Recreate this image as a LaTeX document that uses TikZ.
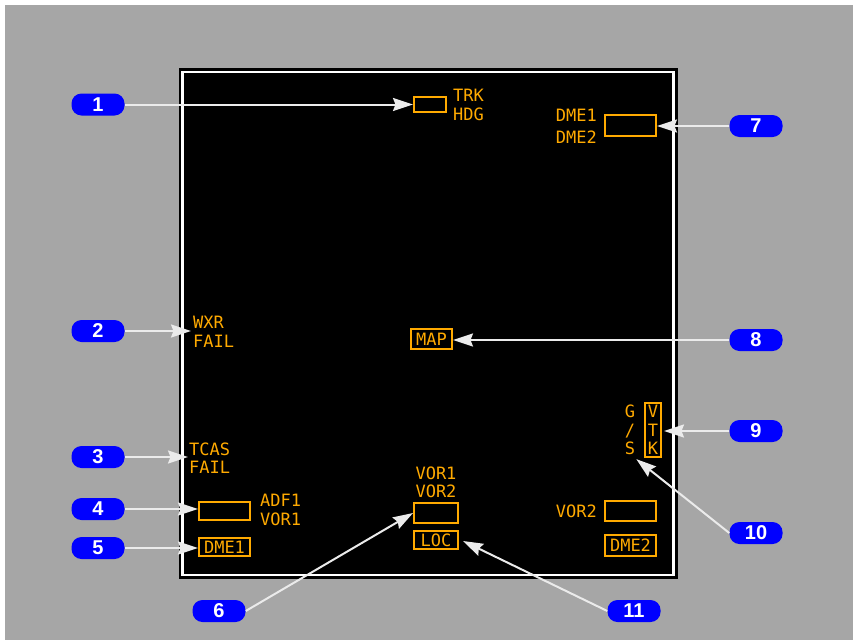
\documentclass[tikz,border=0pt]{standalone}
\usepackage{fontspec}
\usetikzlibrary{arrows.meta, positioning, calc}
\newfontfamily\ndmono{DejaVu Sans Mono}
\newfontfamily\badgesans{Liberation Sans}
\definecolor{bggrey}{HTML}{A6A6A6}
\definecolor{ndamber}{HTML}{FFAA00}
\definecolor{badgeblue}{HTML}{0000FF}
\definecolor{calloutwhite}{HTML}{EBEBEB}

\begin{document}
\begin{tikzpicture}[
      x=1pt, y=-1pt,
      badge/.style={fill=badgeblue, rounded corners=10pt, minimum width=53pt,
        minimum height=22pt, inner sep=0pt, text=white,
        font=\badgesans\bfseries\fontsize{20}{20}\selectfont},
      ndtext/.style={text=ndamber, inner sep=0pt,
        font=\ndmono\fontsize{17}{19}\selectfont},
      ndbox/.style={ndtext, draw=ndamber, line width=2pt},
      callout/.style={draw=calloutwhite, line width=2pt,
        -{Stealth[length=20pt, width=13pt, inset=2.5pt]}}
    ]
      \useasboundingbox (0,0) rectangle (853,640);
      \fill[white] (0,0) rectangle (853,640);
      \fill[bggrey] (5,5) rectangle (853,640);

      % display panel
      \fill[black] (179,68) rectangle (678,579);
      \draw[white, line width=2.5pt] (182.5,72) rectangle (673.5,575);

      % flags and boxes
      \node[ndbox, minimum width=32pt, minimum height=15pt] (trkbox) at (430,104.5) {};
      \node[ndtext, anchor=west, align=left] (trk) at (453,104.5) {TRK\\HDG};
      \node[ndbox, minimum width=51pt, minimum height=21pt] (dmebox) at (630.5,125.5) {};
      \node[ndtext, anchor=east, align=right] (dme) at (597,126) {DME1\\[3pt]DME2};
      \node[ndtext, anchor=west, align=left] (wxr) at (193,331.5) {WXR\\FAIL};
      \node[ndbox, minimum width=41pt, minimum height=20pt] (mapbox) at (431.5,339) {MAP};
      \node[ndtext, align=center, font=\ndmono\fontsize{17}{18.5}\selectfont] (gs) at (630,430) {G\\/\\S};
      \node[ndbox, align=center, minimum width=16pt, minimum height=54pt,
        font=\ndmono\fontsize{17}{18.5}\selectfont] (vtk) at (653,430) {V\\T\\K};
      \node[ndtext, anchor=west, align=left, font=\ndmono\fontsize{17}{18}\selectfont] (tcas) at (189,458) {TCAS\\FAIL};
      \node[ndbox, minimum width=51pt, minimum height=18pt] (adfbox) at (224.5,511) {};
      \node[ndtext, anchor=west, align=left] (adf) at (260,509.5) {ADF1\\VOR1};
      \node[ndbox, minimum width=51pt, minimum height=18pt] (dmeonebox) at (224.5,547) {DME1};
      \node[ndtext, align=center, font=\ndmono\fontsize{17}{18}\selectfont] (vor) at (436,482) {VOR1\\VOR2};
      \node[ndbox, minimum width=44pt, minimum height=20pt] (vorbox) at (436,513) {};
      \node[ndbox, minimum width=44pt, minimum height=18pt] (locbox) at (436,540) {LOC};
      \node[ndtext, anchor=east] (vortwo) at (597,511) {VOR2};
      \node[ndbox, minimum width=51pt, minimum height=20pt] (vortwobox) at (630.5,511) {};
      \node[ndbox, minimum width=51pt, minimum height=21pt] (dmetwobox) at (630.5,545.5) {DME2};

      % callout badges
      \node[badge] (b1) at (98,104.5) {1};
      \node[badge] (b2) at (98,331) {2};
      \node[badge] (b3) at (98,457) {3};
      \node[badge] (b4) at (98,509) {4};
      \node[badge] (b5) at (98,548) {5};
      \node[badge] (b6) at (219,611) {6};
      \node[badge] (b7) at (756,126) {7};
      \node[badge] (b8) at (756,340) {8};
      \node[badge] (b9) at (756,431) {9};
      \node[badge] (b10) at (756,533) {10};
      \node[badge] (b11) at (634,611) {11};

      \draw[callout] (b1.east) -- (b1.east -| trkbox.west);
      \draw[callout] (b2.east) -- ($(b2.east -| wxr.west)+(-2,0)$);
      \draw[callout] (b3.east) -- ($(b3.east -| tcas.west)+(-1,0)$);
      \draw[callout] (b4.east) -- (b4.east -| adfbox.west);
      \draw[callout] (b5.east) -- (b5.east -| dmeonebox.west);
      \draw[callout] (b6.east) -- (vorbox.west);
      \draw[callout] (b7.west) -- (b7.west -| dmebox.east);
      \draw[callout] (b8.west) -- (b8.west -| mapbox.east);
      \draw[callout] (b9.west) -- ($(b9.west -| vtk.east)+(2,0)$);
      \draw[callout] (b10.west) -- ($(gs.south east)+(1,4)$);
      \draw[callout] (b11.west) -- ($(locbox.east)+(4,1)$);
    \end{tikzpicture}
\end{document}
